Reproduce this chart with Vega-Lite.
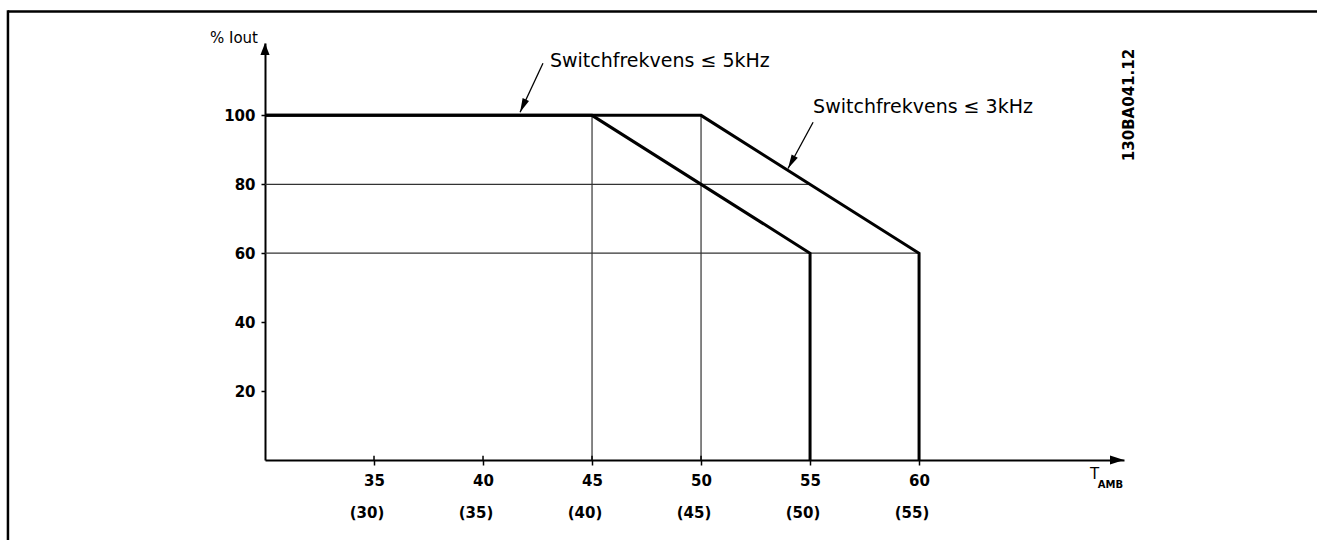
{
  "$schema": "https://vega.github.io/schema/vega-lite/v6.json",
  "width": 859,
  "height": 417,
  "autosize": "none",
  "padding": {"left": 265, "top": 43, "right": 193, "bottom": 80},
  "background": "white",
  "config": {"view": {"stroke": null}, "font": "DejaVu Sans"},
  "data": {"values": [{"one": 1}]},
  "datasets": {
    "curves": [
      {"s": "5kHz", "o": 1, "x": 30, "y": 100},
      {"s": "5kHz", "o": 2, "x": 45, "y": 100},
      {"s": "5kHz", "o": 3, "x": 55, "y": 60},
      {"s": "5kHz", "o": 4, "x": 55, "y": 0},
      {"s": "3kHz", "o": 1, "x": 30, "y": 100},
      {"s": "3kHz", "o": 2, "x": 50, "y": 100},
      {"s": "3kHz", "o": 3, "x": 60, "y": 60},
      {"s": "3kHz", "o": 4, "x": 60, "y": 0}
    ],
    "guides": [
      {"x": 45, "y": 0, "x2": 45, "y2": 100},
      {"x": 50, "y": 0, "x2": 50, "y2": 100},
      {"x": 30, "y": 80, "x2": 55, "y2": 80},
      {"x": 30, "y": 60, "x2": 60, "y2": 60}
    ],
    "alt": [
      {"x": 35, "y": 0, "lbl": "(30)"},
      {"x": 40, "y": 0, "lbl": "(35)"},
      {"x": 45, "y": 0, "lbl": "(40)"},
      {"x": 50, "y": 0, "lbl": "(45)"},
      {"x": 55, "y": 0, "lbl": "(50)"},
      {"x": 60, "y": 0, "lbl": "(55)"}
    ],
    "notes": [
      {"x": 43.07, "y": 113.9, "text": "Switchfrekvens ≤ 5kHz"},
      {"x": 55.14, "y": 100.6, "text": "Switchfrekvens ≤ 3kHz"}
    ],
    "leaders": [
      {"x": 42.75, "y": 115.1, "x2": 41.7, "y2": 100.9},
      {"x": 55.14, "y": 98.0, "x2": 53.99, "y2": 84.6}
    ]
  },
  "layer": [
    {
      "data": {"name": "guides"},
      "mark": {"type": "rule", "color": "#333333", "strokeWidth": 1.2},
      "encoding": {
        "x": {
          "field": "x", "type": "quantitative",
          "scale": {"domain": [30, 69.4], "nice": false, "zero": false},
          "axis": {
            "values": [35, 40, 45, 50, 55, 60],
            "title": null, "grid": false,
            "domainColor": "black", "domainWidth": 2,
            "tickColor": "black", "tickWidth": 1.5, "tickSize": 5,
            "labelFont": "DejaVu Sans", "labelFontWeight": "bold", "labelFontSize": 15,
            "labelColor": "black", "labelPadding": 8, "labelFlush": false
          }
        },
        "y": {
          "field": "y", "type": "quantitative",
          "scale": {"domain": [0, 121], "nice": false, "zero": false},
          "axis": {
            "values": [20, 40, 60, 80, 100],
            "title": null, "grid": false,
            "domainColor": "black", "domainWidth": 2,
            "tickColor": "black", "tickWidth": 1.5, "tickSize": 4,
            "labelFont": "DejaVu Sans", "labelFontWeight": "bold", "labelFontSize": 15,
            "labelColor": "black", "labelPadding": 6
          }
        },
        "x2": {"field": "x2"},
        "y2": {"field": "y2"}
      }
    },
    {
      "data": {"name": "curves"},
      "mark": {"type": "line", "color": "black", "strokeWidth": 3, "strokeJoin": "miter"},
      "encoding": {
        "x": {"field": "x", "type": "quantitative", "scale": {"domain": [30, 69.4], "nice": false, "zero": false}, "title": null},
        "y": {"field": "y", "type": "quantitative", "scale": {"domain": [0, 121], "nice": false, "zero": false}, "title": null},
        "detail": {"field": "s"},
        "order": {"field": "o"}
      }
    },
    {
      "data": {"name": "alt"},
      "mark": {"type": "rule", "color": "black", "strokeWidth": 1.5},
      "encoding": {
        "x": {"field": "x", "type": "quantitative", "scale": {"domain": [30, 69.4], "nice": false, "zero": false}, "title": null},
        "y": {"field": "y", "type": "quantitative", "scale": {"domain": [0, 121], "nice": false, "zero": false}, "title": null},
        "y2": {"datum": 1.2}
      }
    },
    {
      "data": {"name": "alt"},
      "mark": {"type": "text", "fontWeight": "bold", "fontSize": 15, "color": "black", "align": "center", "baseline": "alphabetic", "dx": -7, "dy": 58},
      "encoding": {
        "x": {"field": "x", "type": "quantitative", "scale": {"domain": [30, 69.4], "nice": false, "zero": false}, "title": null},
        "y": {"field": "y", "type": "quantitative", "scale": {"domain": [0, 121], "nice": false, "zero": false}, "title": null},
        "text": {"field": "lbl"}
      }
    },
    {
      "data": {"name": "notes"},
      "mark": {"type": "text", "fontSize": 19, "color": "black", "align": "left", "baseline": "alphabetic"},
      "encoding": {
        "x": {"field": "x", "type": "quantitative", "scale": {"domain": [30, 69.4], "nice": false, "zero": false}, "title": null},
        "y": {"field": "y", "type": "quantitative", "scale": {"domain": [0, 121], "nice": false, "zero": false}, "title": null},
        "text": {"field": "text"}
      }
    },
    {
      "data": {"name": "leaders"},
      "mark": {"type": "rule", "color": "black", "strokeWidth": 1.3},
      "encoding": {
        "x": {"field": "x", "type": "quantitative", "scale": {"domain": [30, 69.4], "nice": false, "zero": false}, "title": null},
        "y": {"field": "y", "type": "quantitative", "scale": {"domain": [0, 121], "nice": false, "zero": false}, "title": null},
        "x2": {"field": "x2"},
        "y2": {"field": "y2"}
      }
    },
    {
      "mark": {"type": "point", "shape": "M0,0L-0.25,1L0.25,1Z", "size": 784, "filled": true, "color": "black", "opacity": 1, "angle": 204.2},
      "encoding": {
        "x": {"datum": 41.7, "type": "quantitative", "scale": {"domain": [30, 69.4], "nice": false, "zero": false}},
        "y": {"datum": 100.9, "type": "quantitative", "scale": {"domain": [0, 121], "nice": false, "zero": false}}
      }
    },
    {
      "mark": {"type": "point", "shape": "M0,0L-0.25,1L0.25,1Z", "size": 784, "filled": true, "color": "black", "opacity": 1, "angle": 208.5},
      "encoding": {
        "x": {"datum": 53.99, "type": "quantitative", "scale": {"domain": [30, 69.4], "nice": false, "zero": false}},
        "y": {"datum": 84.6, "type": "quantitative", "scale": {"domain": [0, 121], "nice": false, "zero": false}}
      }
    },
    {
      "mark": {"type": "point", "shape": "M0,0L-0.38,1L0.38,1Z", "size": 576, "filled": true, "color": "black", "opacity": 1, "angle": 0},
      "encoding": {
        "x": {"datum": 30, "type": "quantitative", "scale": {"domain": [30, 69.4], "nice": false, "zero": false}},
        "y": {"datum": 121, "type": "quantitative", "scale": {"domain": [0, 121], "nice": false, "zero": false}}
      }
    },
    {
      "mark": {"type": "point", "shape": "M0,0L-0.32,1L0.32,1Z", "size": 784, "filled": true, "color": "black", "opacity": 1, "angle": 90},
      "encoding": {
        "x": {"datum": 69.4, "type": "quantitative", "scale": {"domain": [30, 69.4], "nice": false, "zero": false}},
        "y": {"datum": 0, "type": "quantitative", "scale": {"domain": [0, 121], "nice": false, "zero": false}}
      }
    },
    {
      "mark": {"type": "text", "text": "% Iout", "fontSize": 15, "color": "black", "align": "right", "baseline": "alphabetic", "dx": -7},
      "encoding": {
        "x": {"datum": 30, "type": "quantitative", "scale": {"domain": [30, 69.4], "nice": false, "zero": false}},
        "y": {"datum": 121, "type": "quantitative", "scale": {"domain": [0, 121], "nice": false, "zero": false}}
      }
    },
    {
      "mark": {"type": "text", "text": "T", "fontSize": 15, "color": "black", "align": "left", "baseline": "alphabetic", "dy": 19},
      "encoding": {
        "x": {"datum": 67.84, "type": "quantitative", "scale": {"domain": [30, 69.4], "nice": false, "zero": false}},
        "y": {"datum": 0, "type": "quantitative", "scale": {"domain": [0, 121], "nice": false, "zero": false}}
      }
    },
    {
      "mark": {"type": "text", "text": "AMB", "fontSize": 10, "fontWeight": "bold", "color": "black", "align": "left", "baseline": "alphabetic", "dy": 28},
      "encoding": {
        "x": {"datum": 68.2, "type": "quantitative", "scale": {"domain": [30, 69.4], "nice": false, "zero": false}},
        "y": {"datum": 0, "type": "quantitative", "scale": {"domain": [0, 121], "nice": false, "zero": false}}
      }
    },
    {
      "mark": {"type": "text", "text": "130BA041.12", "fontSize": 15, "fontWeight": "bold", "color": "black", "align": "center", "baseline": "middle", "angle": 270},
      "encoding": {
        "x": {"datum": 69.63, "type": "quantitative", "scale": {"domain": [30, 69.4], "nice": false, "zero": false}},
        "y": {"datum": 103, "type": "quantitative", "scale": {"domain": [0, 121], "nice": false, "zero": false}}
      }
    },
    {
      "mark": {"type": "rule", "color": "black", "strokeWidth": 2.5},
      "encoding": {
        "x": {"datum": 18.21, "type": "quantitative", "scale": {"domain": [30, 69.4], "nice": false, "zero": false}},
        "x2": {"datum": 80},
        "y": {"datum": 130.15, "type": "quantitative", "scale": {"domain": [0, 121], "nice": false, "zero": false}}
      }
    },
    {
      "mark": {"type": "rule", "color": "black", "strokeWidth": 2.5},
      "encoding": {
        "x": {"datum": 18.21, "type": "quantitative", "scale": {"domain": [30, 69.4], "nice": false, "zero": false}},
        "y": {"datum": 130.5, "type": "quantitative", "scale": {"domain": [0, 121], "nice": false, "zero": false}},
        "y2": {"datum": -30}
      }
    }
  ]
}
